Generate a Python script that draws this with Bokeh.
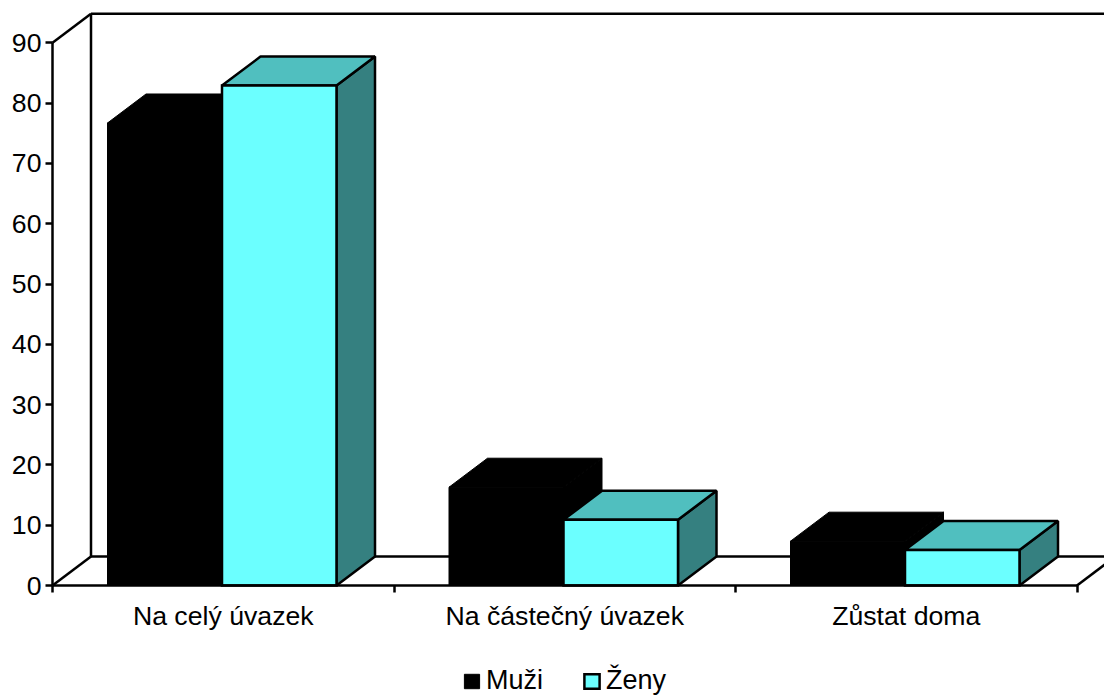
from bokeh.embed import file_html
from bokeh.resources import INLINE
from bokeh.plotting import figure
from bokeh.models import FixedTicker, LinearAxis, Range1d, Legend, LegendItem

categories = ["Na celý úvazek", "Na částečný úvazek", "Zůstat doma"]
series_names = ["Muži", "Ženy"]
muzi = [76.7, 16.3, 7.35]
zeny = [82.9, 10.9, 5.9]
y_ticks = [0, 10, 20, 30, 40, 50, 60, 70, 80, 90]

FONT = "Liberation Sans"
FS = "26.67px"
LW = 2.5
W, H = 1104, 695
X0, Y0 = 52, 585        # where the axes cross, in pixels
PX_X = 341.5            # pixels per category
PX_Y = 6.03             # pixels per value unit
DX = 38.5 / PX_X        # depth offset in x
DY = 29 / PX_Y          # depth offset in y
GAP = 55 / PX_X
BAR = 114.5 / PX_X

p = figure(width=W, height=H, output_backend="svg", toolbar_location=None,
           x_range=Range1d(-X0 / PX_X, (W - X0) / PX_X), y_range=Range1d((Y0 - H) / PX_Y, Y0 / PX_Y),
           x_axis_location=None, y_axis_location=None,
           min_border_left=0, min_border_right=0, min_border_top=0, min_border_bottom=0)
p.outline_line_color = None
p.grid.visible = False
p.background_fill_color = "white"

# walls and floor
top = y_ticks[-1]
n = len(categories)
xs = [[0, DX], [DX, DX], [DX, 10], [0, DX], [DX, 10], [n, n + DX]]
ys = [[top, top + DY], [DY, top + DY], [top + DY, top + DY], [0, DY], [DY, DY], [0, DY]]
p.multi_line(xs, ys, line_color="black", line_width=LW)


def draw_bar(x0, v, front, topc, side, lw):
    x1 = x0 + BAR
    p.patch([x1, x1 + DX, x1 + DX, x1], [0, DY, v + DY, v],
            fill_color=side, line_color="black", line_width=lw, line_join="bevel")
    p.patch([x0, x0 + DX, x1 + DX, x1], [v, v + DY, v + DY, v],
            fill_color=topc, line_color="black", line_width=lw, line_join="bevel")
    return p.quad(left=x0, right=x1, bottom=0, top=v,
                  fill_color=front, line_color="black", line_width=lw, line_join="miter")


first = [None, None]
for i in range(n):
    r0 = draw_bar(i + GAP, muzi[i], "black", "black", "black", 1)
    r1 = draw_bar(i + GAP + BAR, zeny[i], "#6BFFFF", "#50BFBF", "#358080", LW)
    first = [first[0] or r0, first[1] or r1]

yax = LinearAxis(ticker=FixedTicker(ticks=y_ticks), bounds=(0, top), fixed_location=0)
yax.axis_line_color = "black"
yax.axis_line_width = LW
yax.major_tick_line_width = LW
yax.major_tick_line_color = "black"
yax.major_tick_out = 7
yax.major_tick_in = 0
yax.minor_tick_out = 0
yax.minor_tick_in = 0
yax.major_label_standoff = 4
yax.major_label_text_font = FONT
yax.major_label_text_font_size = FS
yax.major_label_text_color = "black"
p.add_layout(yax, "left")

xax = LinearAxis(ticker=FixedTicker(ticks=[i + 0.5 for i in range(n)], minor_ticks=list(range(n + 1))),
                 bounds=(0, n), fixed_location=0)
xax.major_label_overrides = {i + 0.5: c for i, c in enumerate(categories)}
xax.axis_line_color = "black"
xax.axis_line_width = LW
xax.major_tick_out = 0
xax.major_tick_in = 0
xax.minor_tick_out = 7
xax.minor_tick_in = 0
xax.minor_tick_line_width = LW
xax.minor_tick_line_color = "black"
xax.major_label_standoff = 8
xax.major_label_text_font = FONT
xax.major_label_text_font_size = FS
xax.major_label_text_color = "black"
p.add_layout(xax, "below")

legend = Legend(items=[LegendItem(label=series_names[0], renderers=[first[0]]),
                       LegendItem(label=series_names[1], renderers=[first[1]])],
                orientation="horizontal", location=(462, -1),
                glyph_width=19, glyph_height=18, label_standoff=5, spacing=39,
                padding=4, margin=0, border_line_color=None, background_fill_alpha=0,
                label_text_font=FONT, label_text_font_size="27px", label_text_color="black")
p.add_layout(legend, "center")

open("out.html", "w").write(file_html(p, INLINE))
